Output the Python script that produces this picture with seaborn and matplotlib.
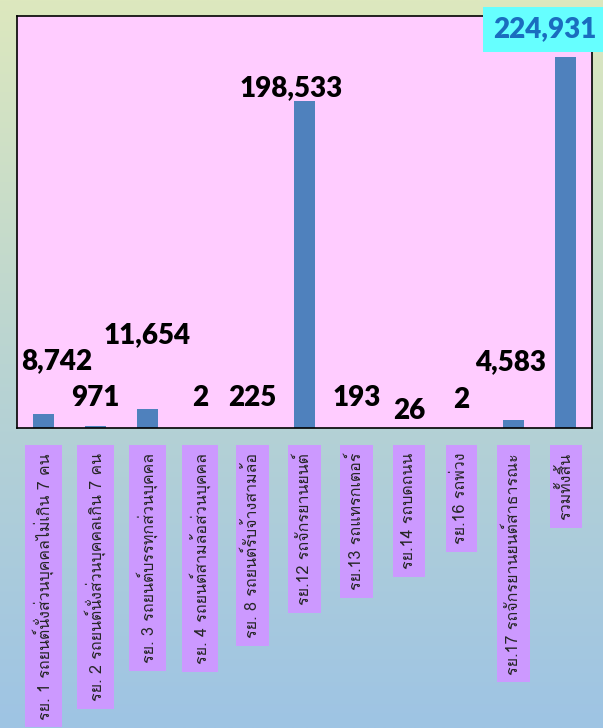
import matplotlib
matplotlib.use("Agg")
import matplotlib.pyplot as plt
import numpy as np
import seaborn as sns

# ข้อมูลจากภาพ
categories = [
    "รย. 1 รถยนต์นั่งส่วนบุคคลไม่เกิน 7 คน",
    "รย. 2 รถยนต์นั่งส่วนบุคคลเกิน 7 คน",
    "รย. 3 รถยนต์บรรทุกส่วนบุคคล",
    "รย. 4 รถยนต์สามล้อส่วนบุคคล",
    "รย. 8 รถยนต์รับจ้างสามล้อ",
    "รย.12 รถจักรยานยนต์",
    "รย.13 รถแทรกเตอร์",
    "รย.14 รถบดถนน",
    "รย.16 รถพ่วง",
    "รย.17 รถจักรยานยนต์สาธารณะ",
    "รวมทั้งสิ้น",
]
counts = [8742, 971, 11654, 2, 225, 198533, 193, 26, 2, 4583, 224931]

# ตำแหน่งป้ายตัวเลข (พิกเซล, เทียบกับยอดแท่ง)
label_offsets = [(14, 52), (0, 28), (-1, 74), (0, 30), (0, 30), (-13, 13),
                 (0, 30), (0, 17), (0, 28), (-3, 58), (-21, 28)]

sns.set_style("white")
plt.rcParams['font.family'] = ['Lato', 'Loma', 'DejaVu Sans']

fig = plt.figure(figsize=(6.03, 7.28), dpi=100)

# พื้นหลังไล่สี
top = np.array([221, 232, 190]) / 255
mid = np.array([185, 212, 210]) / 255
bot = np.array([158, 196, 228]) / 255
t = np.linspace(0, 1, 256)[:, None]
grad = np.where(t < 0.5, top + (mid - top) * (t / 0.5), mid + (bot - mid) * ((t - 0.5) / 0.5))
bg = fig.add_axes([0, 0, 1, 1], zorder=-1)
bg.imshow(grad[:, None, :], aspect='auto', extent=[0, 1, 0, 1])
bg.axis('off')

ax = fig.add_axes([17 / 603, 1 - 428 / 728, 575 / 603, 412 / 728])
sns.barplot(x=categories, y=counts, color='#4f81bd', saturation=1, width=0.4,
            errorbar=None, linewidth=0, ax=ax)
ax.set_facecolor('#ffccff')
ax.set_ylim(0, 250000)
ax.set_xlim(-0.5, len(categories) - 0.5)
ax.set_yticks([])
ax.set_xlabel('')
ax.set_ylabel('')
for sp in ax.spines.values():
    sp.set_color('black')
    sp.set_linewidth(1.2)
    sp.set_visible(True)

ax.tick_params(axis='x', length=0, pad=18)
ax.set_xticks(range(len(categories)))
ax.set_xticklabels(categories, rotation=90, fontsize=11.5, family=['Loma', 'DejaVu Sans'])
for lbl in ax.get_xticklabels():
    lbl.set_bbox(dict(facecolor='#cc99ff', edgecolor='none', pad=5.5))

for i, (v, off) in enumerate(zip(counts, label_offsets)):
    last = i == len(counts) - 1
    ax.annotate(f"{v:,}", xy=(i, v), xytext=off, textcoords='offset pixels',
                ha='center', va='center', fontsize=20, fontweight='heavy',
                color='#1a6dbf' if last else 'black', annotation_clip=False,
                bbox=dict(facecolor='#66ffff', edgecolor='none', pad=7) if last else None)

fig.savefig("out.png", dpi=100)
